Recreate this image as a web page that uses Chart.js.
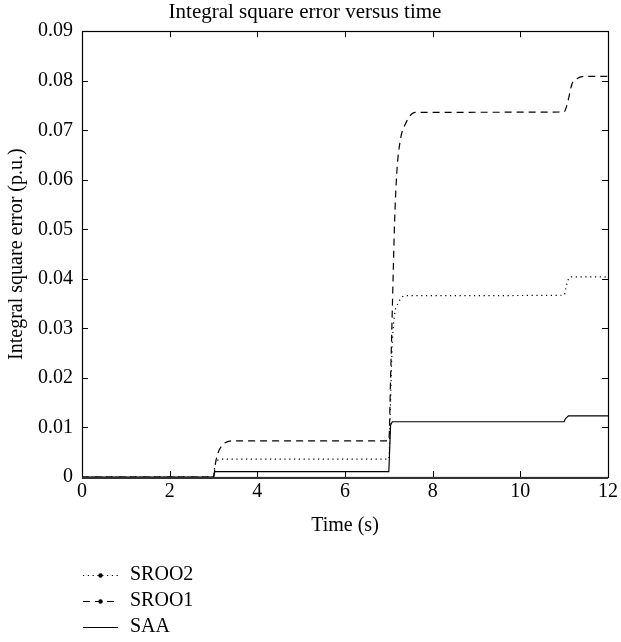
<!DOCTYPE html>
<html>
<head>
<meta charset="utf-8">
<script src="https://cdn.jsdelivr.net/npm/chart.js@4.4.0/dist/chart.umd.min.js"></script>
<style>
  html, body { margin: 0; padding: 0; background: #fff; }
  #wrap { width: 621px; height: 642px; position: relative; }
</style>
</head>
<body>
<div id="wrap"><canvas id="c" width="621" height="642"></canvas></div>
<script>
// ---- Data ----
const seriesNames = ["SROO2", "SROO1", "SAA"];

const sroo2T = [0, 3.0, 3.03, 3.07, 3.12, 3.2, 7.0, 7.03, 7.07, 7.12, 7.22, 7.38, 11.0, 11.04, 11.09, 11.15, 12];
const sroo2Y = [0, 0, 0.0022, 0.0031, 0.0035, 0.0036, 0.0036, 0.012, 0.025, 0.032, 0.0352, 0.0366, 0.0367, 0.0382, 0.0398, 0.0404, 0.0404];

const sroo1T = [0, 3.0, 3.05, 3.1, 3.21, 3.44, 7.0, 7.04, 7.1, 7.13, 7.18, 7.26, 7.38, 7.6, 11.0, 11.03, 11.09, 11.18, 11.29, 11.48, 12];
const sroo1Y = [0, 0, 0.003, 0.0048, 0.0065, 0.0073, 0.0073, 0.02, 0.0411, 0.0511, 0.0612, 0.0679, 0.0713, 0.0736, 0.0737, 0.0742, 0.0760, 0.0794, 0.0804, 0.0809, 0.0809];

const saaT = [0, 3.0, 3.03, 7.0, 7.04, 7.08, 11.0, 11.03, 11.1, 12];
const saaY = [0, 0, 0.00107, 0.00107, 0.0105, 0.01115, 0.01115, 0.0118, 0.01236, 0.01236];

const xTicks = [0, 2, 4, 6, 8, 10, 12];
const yTicks = [0, 0.01, 0.02, 0.03, 0.04, 0.05, 0.06, 0.07, 0.08, 0.09];

const titleText = "Integral square error versus time";
const xTitle = "Time (s)";
const yTitle = "Integral square error (p.u.)";

// ---- Helpers ----
const toPts = (t, y) => t.map((v, i) => ({ x: v, y: y[i] }));
const FONT = "'Liberation Serif', 'DejaVu Serif', serif";

// Inward ticks + full box
const boxPlugin = {
  id: 'boxTicks',
  afterDraw(chart) {
    const { ctx, chartArea: a, scales } = chart;
    ctx.save();
    ctx.strokeStyle = '#000';
    ctx.lineWidth = 1;
    const L = 6;
    ctx.beginPath();
    xTicks.forEach(v => {
      const px = Math.round(scales.x.getPixelForValue(v)) + 0.5;
      ctx.moveTo(px, a.bottom); ctx.lineTo(px, a.bottom - L);
      ctx.moveTo(px, a.top); ctx.lineTo(px, a.top + L);
    });
    yTicks.forEach(v => {
      const py = Math.round(scales.y.getPixelForValue(v)) + 0.5;
      ctx.moveTo(a.left, py); ctx.lineTo(a.left + L, py);
      ctx.moveTo(a.right, py); ctx.lineTo(a.right - L, py);
    });
    ctx.stroke();
    ctx.lineWidth = 1.2;
    ctx.strokeRect(Math.round(a.left) + 0.5, Math.round(a.top) + 0.5,
                   Math.round(a.right - a.left), Math.round(a.bottom - a.top));
    // slightly heavier bottom axis as in the reference
    ctx.strokeStyle = '#333';
    ctx.lineWidth = 2;
    ctx.beginPath();
    ctx.moveTo(a.left, Math.round(a.bottom) + 1); ctx.lineTo(a.right, Math.round(a.bottom) + 1);
    ctx.stroke();
    ctx.restore();
  }
};

// Legend below the axis: line sample with center marker, label to the right
const legendPlugin = {
  id: 'lineLegend',
  afterDraw(chart) {
    const { ctx, chartArea: a } = chart;
    ctx.save();
    ctx.font = "20px " + FONT;
    ctx.textBaseline = 'middle';
    ctx.fillStyle = '#000';
    const rowY = [575, 601, 627];
    const x0 = a.left + 1, x1 = a.left + 36, xt = a.left + 48;
    chart.data.datasets.forEach((ds, i) => {
      const y = rowY[i];
      ctx.strokeStyle = '#000';
      ctx.lineWidth = ds.borderWidth;
      ctx.setLineDash(ds.borderDash || []);
      ctx.beginPath();
      ctx.moveTo(x0, y + 0.5); ctx.lineTo(x1, y + 0.5);
      ctx.stroke();
      ctx.setLineDash([]);
      if (ds.legendMarker) {
        ctx.beginPath();
        ctx.arc((x0 + x1) / 2, y + 0.5, 2.2, 0, Math.PI * 2);
        ctx.fill();
      }
      ctx.fillText(ds.label, xt, y);
    });
    ctx.restore();
  }
};

new Chart(document.getElementById('c'), {
  type: 'line',
  data: {
    datasets: [
      { label: seriesNames[0], data: toPts(sroo2T, sroo2Y), borderColor: '#000', borderWidth: 1.2,
        borderDash: [1.2, 3.6], cubicInterpolationMode: 'monotone', pointRadius: 0, fill: false, legendMarker: true },
      { label: seriesNames[1], data: toPts(sroo1T, sroo1Y), borderColor: '#000', borderWidth: 1.2,
        borderDash: [7, 5], cubicInterpolationMode: 'monotone', pointRadius: 0, fill: false, legendMarker: true },
      { label: seriesNames[2], data: toPts(saaT, saaY), borderColor: '#000', borderWidth: 1.2,
        tension: 0, pointRadius: 0, fill: false, legendMarker: false }
    ]
  },
  options: {
    responsive: false,
    animation: false,
    devicePixelRatio: 1,
    layout: { padding: { left: 0, right: 11, top: 0, bottom: 104 } },
    plugins: {
      legend: { display: false },
      tooltip: { enabled: false },
      title: {
        display: true, text: titleText, color: '#000',
        font: { family: FONT, size: 21, weight: 'normal' },
        padding: { top: 0, bottom: 6 }
      }
    },
    scales: {
      x: {
        type: 'linear', min: 0, max: 12,
        afterBuildTicks: s => { s.ticks = xTicks.map(v => ({ value: v })); },
        grid: { display: false, drawTicks: false },
        border: { display: false },
        ticks: { color: '#000', font: { family: FONT, size: 20 }, padding: 3, maxRotation: 0,
                 callback: v => String(v) },
        title: { display: true, text: xTitle, color: '#000', font: { family: FONT, size: 20 },
                 padding: { top: 2, bottom: 0 } },
        afterFit: s => { s.height = 61; }
      },
      y: {
        type: 'linear', min: 0, max: 0.09,
        afterBuildTicks: s => { s.ticks = yTicks.map(v => ({ value: v })); },
        grid: { display: false, drawTicks: false },
        border: { display: false },
        ticks: { color: '#000', font: { family: FONT, size: 20 }, padding: 9,
                 callback: v => (v === 0 ? '0' : v.toFixed(2)) },
        title: { display: true, text: yTitle, color: '#000', font: { family: FONT, size: 20 },
                 padding: { top: 5, bottom: 0 } },
        afterFit: s => { s.width = 82; }
      }
    }
  },
  plugins: [boxPlugin, legendPlugin]
});
</script>
</body>
</html>
